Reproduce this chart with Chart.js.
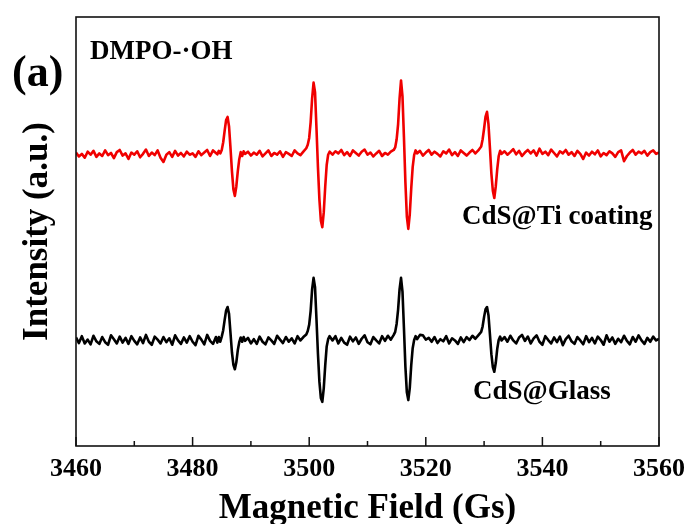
<!DOCTYPE html>
<html>
<head>
<meta charset="utf-8">
<script src="https://cdn.jsdelivr.net/npm/chart.js@4.4.1/dist/chart.umd.min.js"></script>
<style>
    body { margin: 0; background: #fff; }
    #wrap { width: 688px; height: 524px; }
</style>
</head>
<body>
<div id="wrap"><canvas id="eprChart" width="688" height="524"></canvas></div>
<script>
// ==========================================
// EPR spectrum DMPO-·OH, two samples
// ==========================================

// magnetic field (Gs), finer steps around the four lines
const fields = [
    3460,3460.5,3461,3461.5,3462,3462.5,3463,3463.5,3464,3464.5,
    3465,3465.5,3466,3466.5,3467,3467.5,3468,3468.5,3469,3469.5,
    3470,3470.5,3471,3471.5,3472,3472.5,3473,3473.5,3474,3474.5,
    3475,3475.5,3476,3476.5,3477,3477.5,3478,3478.5,3479,3479.5,
    3480,3480.5,3481,3481.5,3482,3482.5,3483,3483.5,3484,
    3484.25,3484.5,3484.75,3485,3485.25,3485.5,3485.75,3486,3486.25,3486.5,3486.75,3487,3487.25,3487.5,3487.75,3488,3488.25,3488.5,3488.75,3489,
    3489.5,3490,3490.5,3491,3491.5,3492,3492.5,3493,3493.5,3494,3494.5,3495,3495.5,3496,3496.5,3497,3497.5,3498,3498.5,3499,3499.5,
    3499.75,3500,3500.25,3500.5,3500.75,3501,3501.25,3501.5,3501.75,3502,3502.25,3502.5,3502.75,3503,3503.25,3503.5,
    3504,3504.5,3505,3505.5,3506,3506.5,3507,3507.5,3508,3508.5,3509,3509.5,3510,3510.5,3511,3511.5,3512,3512.5,3513,3513.5,3514,3514.5,
    3514.75,3515,3515.25,3515.5,3515.75,3516,3516.25,3516.5,3516.75,3517,3517.25,3517.5,3517.75,3518,3518.25,3518.5,
    3519,3519.5,3520,3520.5,3521,3521.5,3522,3522.5,3523,3523.5,3524,3524.5,3525,3525.5,3526,3526.5,3527,3527.5,3528,3528.5,3529,3529.5,
    3529.75,3530,3530.25,3530.5,3530.75,3531,3531.25,3531.5,3531.75,3532,3532.25,3532.5,3532.75,3533,
    3533.5,3534,3534.5,3535,3535.5,3536,3536.5,3537,3537.5,3538,
    3538.5,3539,3539.5,3540,3540.5,3541,3541.5,3542,3542.5,3543,
    3543.5,3544,3544.5,3545,3545.5,3546,3546.5,3547,3547.5,3548,
    3548.5,3549,3549.5,3550,3550.5,3551,3551.5,3552,3552.5,3553,
    3553.5,3554,3554.5,3555,3555.5,3556,3556.5,3557,3557.5,3558,
    3558.5,3559,3559.5,3560
];

// CdS@Ti coating (a.u., offset upwards)
const tiCoating = [
    68.4,67.5,68.1,67.2,68.6,67.9,68.8,67.4,68.2,67.6,
    68.9,67.8,68.3,67.1,68.5,69.0,67.7,68.2,66.9,68.4,
    67.9,68.7,67.3,68.1,69.1,67.6,68.4,67.8,68.9,67.2,
    66.2,67.9,68.5,67.4,68.8,67.7,68.3,67.5,68.6,67.9,
    68.2,67.4,68.7,67.8,68.4,69.0,67.6,68.9,68.3,
    68.0,68.8,68.2,69.0,70.8,73.5,76.0,76.7,74.5,69.5,64.0,59.8,58.3,60.5,64.0,66.8,68.5,67.6,68.7,68.1,
    68.6,67.7,68.4,67.9,68.8,67.5,68.2,68.9,67.6,68.3,67.9,68.7,67.4,68.5,68.1,67.6,68.9,68.2,67.8,68.6,69.4,
    70.2,71.8,75.5,81.0,84.7,82.5,74.0,65.0,57.5,52.5,51.0,54.5,60.5,65.5,67.9,68.6,
    67.9,68.7,68.2,69.0,67.8,68.5,67.6,68.9,68.3,67.7,68.6,69.1,67.9,68.4,67.5,68.2,68.8,67.6,68.3,67.9,68.6,69.0,
    69.6,71.5,75.0,81.0,85.2,81.5,72.0,61.5,53.5,50.6,54.0,60.0,65.0,67.8,68.9,68.2,
    68.8,67.7,68.4,69.0,67.9,68.6,68.1,67.5,68.7,68.2,69.1,67.8,68.5,67.6,68.9,68.3,67.7,68.4,69.0,68.2,68.9,69.8,
    71.5,74.0,76.8,77.9,75.0,69.5,63.5,59.5,57.8,60.5,64.5,67.5,68.8,68.1,
    68.7,67.9,68.5,69.2,68.0,68.8,67.6,68.4,69.0,68.2,
    68.9,67.7,69.3,68.1,68.6,67.8,69.1,68.3,67.5,68.7,
    68.2,69.0,67.9,68.5,67.6,68.8,68.1,66.9,68.4,67.7,
    68.6,68.0,68.9,67.5,68.3,67.8,68.7,68.2,67.4,68.5,
    68.9,66.4,67.6,68.4,69.0,67.9,68.6,68.2,68.8,67.7,
    68.5,68.9,68.1,68.4
];

// CdS@Glass (a.u.)
const glass = [
    25.3,24.0,25.6,23.9,24.8,23.7,25.7,24.4,23.8,25.4,
    24.2,23.6,25.8,24.9,23.9,25.5,24.1,25.2,23.8,25.6,
    24.5,23.7,25.3,24.0,25.9,24.3,23.6,25.5,24.8,23.9,
    25.4,24.2,25.1,23.6,25.8,24.6,23.8,25.3,24.1,25.6,
    24.3,23.5,25.7,24.8,23.7,25.9,24.5,23.8,25.4,
    24.1,25.4,24.3,25.5,27.0,29.4,31.6,32.4,30.8,26.3,21.8,18.9,17.9,19.5,22.3,24.2,25.3,24.3,25.4,24.5,
    25.2,23.9,24.9,23.8,25.5,24.3,23.7,25.3,24.6,23.8,25.7,24.8,24.0,25.4,24.3,25.1,23.9,25.6,24.6,25.4,26.0,
    26.8,28.3,31.5,36.5,39.2,37.0,29.5,21.5,15.0,11.2,10.3,13.5,18.8,23.2,24.9,25.6,
    24.6,25.6,23.9,25.2,24.1,23.6,25.5,24.4,25.3,23.8,25.0,25.8,24.2,23.7,25.4,24.6,23.9,25.6,24.5,25.7,24.8,25.9,
    26.6,28.5,31.8,36.5,39.2,36.0,27.5,18.5,12.5,10.7,13.5,18.8,22.8,24.7,25.6,24.9,
    25.9,25.8,24.8,25.2,24.3,25.4,24.0,24.9,24.4,25.6,23.9,25.1,24.6,23.8,25.3,24.2,25.4,24.7,25.7,25.0,25.8,26.6,
    27.9,30.1,31.9,32.4,30.5,26.0,21.4,18.4,17.3,19.4,22.6,24.7,25.5,24.6,
    25.4,24.3,25.7,24.6,23.9,25.3,25.9,24.5,25.5,23.9,
    25.1,25.8,24.3,23.6,25.6,24.7,23.9,25.3,24.2,25.5,
    23.5,24.9,25.7,24.4,23.8,25.4,24.6,23.7,25.6,24.2,
    25.2,23.9,25.5,24.7,23.6,25.8,24.3,25.3,23.8,25.0,
    24.2,25.7,24.5,23.7,25.4,24.3,25.8,24.6,23.8,25.2,
    24.3,25.5,24.6,25.0
];

const majorTicks = [3460, 3480, 3500, 3520, 3540, 3560];
const minorTicks = [3470, 3490, 3510, 3530, 3550];

const SERIF = '"Liberation Serif", "Times New Roman", serif';

function toPoints(values) {
    if (values.length !== fields.length) {
        console.warn('length mismatch', values.length, fields.length);
    }
    return values.map((v, i) => ({ x: fields[i], y: v }));
}

// frame, inward ticks and the text labels
const decorPlugin = {
    id: 'decor',
    afterDraw(chart) {
        const { ctx, chartArea: a, scales: { x } } = chart;
        ctx.save();
        ctx.strokeStyle = '#111';
        ctx.lineWidth = 1.6;
        ctx.strokeRect(a.left, a.top, a.right - a.left, a.bottom - a.top);

        ctx.lineWidth = 1.5;
        ctx.beginPath();
        majorTicks.forEach(v => {
            const px = x.getPixelForValue(v);
            ctx.moveTo(px, a.bottom);
            ctx.lineTo(px, a.bottom - 9);
        });
        minorTicks.forEach(v => {
            const px = x.getPixelForValue(v);
            ctx.moveTo(px, a.bottom);
            ctx.lineTo(px, a.bottom - 5);
        });
        ctx.stroke();

        ctx.fillStyle = '#000';
        ctx.textBaseline = 'alphabetic';
        ctx.textAlign = 'left';
        ctx.font = 'bold 44px ' + SERIF;
        ctx.fillText('(a)', 12, 86);
        ctx.font = 'bold 27px ' + SERIF;
        ctx.fillText('DMPO-·OH', 90, 59);
        ctx.fillText('CdS@Ti coating', 462, 224);
        ctx.fillText('CdS@Glass', 473, 399);
        ctx.restore();
    }
};

new Chart(document.getElementById('eprChart'), {
    type: 'line',
    data: {
        datasets: [
            {
                label: 'CdS@Ti coating',
                data: toPoints(tiCoating),
                borderColor: '#f00000',
                borderWidth: 2.6,
                borderJoinStyle: 'round',
                pointRadius: 0,
                tension: 0
            },
            {
                label: 'CdS@Glass',
                data: toPoints(glass),
                borderColor: '#000000',
                borderWidth: 2.6,
                borderJoinStyle: 'round',
                pointRadius: 0,
                tension: 0
            }
        ]
    },
    options: {
        responsive: false,
        animation: false,
        layout: { padding: { top: 17, right: 29, left: 0, bottom: 0 } },
        plugins: {
            legend: { display: false },
            tooltip: { enabled: false }
        },
        scales: {
            x: {
                type: 'linear',
                min: 3460,
                max: 3560,
                grid: { display: false, drawTicks: false },
                border: { display: false },
                ticks: {
                    stepSize: 20,
                    padding: 8,
                    color: '#000',
                    font: { family: SERIF, size: 26, weight: 'bold' },
                    callback: v => String(v)
                },
                title: {
                    display: true,
                    text: 'Magnetic Field (Gs)',
                    color: '#000',
                    padding: 0,
                    font: { family: SERIF, size: 35, weight: 'bold', lineHeight: 0.85 }
                },
                afterFit(scale) {
                    scale.height = 78;
                    scale.paddingLeft = 0;
                    scale.paddingRight = 0;
                }
            },
            y: {
                min: 0,
                max: 100,
                grid: { display: false, drawTicks: false },
                border: { display: false },
                ticks: { display: false },
                title: {
                    display: true,
                    text: 'Intensity (a.u.)',
                    color: '#000',
                    padding: { top: 20, bottom: 0 },
                    font: { family: SERIF, size: 35, weight: 'bold', lineHeight: 1 }
                },
                afterFit(scale) { scale.width = 76; }
            }
        }
    },
    plugins: [decorPlugin]
});
</script>
</body>
</html>
